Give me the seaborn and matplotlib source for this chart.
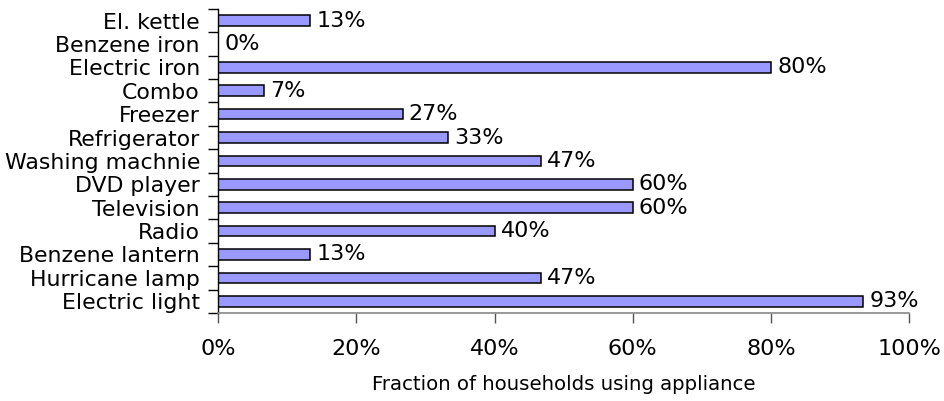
import numpy as np
import pandas as pd
import matplotlib
matplotlib.use("Agg")
import matplotlib.pyplot as plt
import seaborn as sns
from matplotlib.ticker import FixedLocator, FuncFormatter

appliances = ["El. kettle", "Benzene iron", "Electric iron", "Combo", "Freezer",
              "Refrigerator", "Washing machnie", "DVD player", "Television", "Radio",
              "Benzene lantern", "Hurricane lamp", "Electric light"]
shares = [13.3, 0.0, 80.0, 6.7, 26.7, 33.3, 46.7, 60.0, 60.0, 40.0, 13.3, 46.7, 93.3]
x_ticks = [0, 20, 40, 60, 80, 100]

sns.set_theme(style="white")
plt.rcParams["font.family"] = ["DejaVu Sans"]

df = pd.DataFrame({"appliance": appliances, "share": shares})

fig = plt.figure(figsize=(9.45, 4.01), dpi=100)
ax = fig.add_axes([0.2307, 0.2195, 0.7315, 0.7585])

sns.barplot(data=df, x="share", y="appliance", orient="h", color="#9999FF",
            width=0.45, edgecolor="black", linewidth=1.1, saturation=1, ax=ax)

fs = 16
for i, v in enumerate(shares):
    ax.text(v + 0.9, i, f"{v:.0f}%", va="center", ha="left", fontsize=fs, color="black")

ax.set_xlim(0, 100)
ax.set_ylim(len(appliances) - 0.5, -0.5)
ax.set_xticks(x_ticks)
ax.xaxis.set_major_formatter(FuncFormatter(lambda v, p: f"{v:.0f}%"))
ax.tick_params(axis="x", direction="out", length=7, width=1, color="#555555",
               pad=12, labelsize=fs, labelcolor="black", bottom=True)

# category labels centered on bars, tick marks at category boundaries
ax.tick_params(axis="y", which="major", length=0, pad=13, labelsize=15.8, labelcolor="black")
ax.yaxis.set_minor_locator(FixedLocator(np.arange(-0.5, len(appliances), 1.0)))
ax.tick_params(axis="y", which="minor", direction="out", length=7, width=1,
               color="black", left=True)

ax.set_xlabel("Fraction of households using appliance", fontsize=14.2,
              color="black", labelpad=11)
ax.set_ylabel("")

for s in ["top", "right"]:
    ax.spines[s].set_visible(False)
ax.spines["left"].set_color("black")
ax.spines["left"].set_linewidth(1)
ax.spines["bottom"].set_color("#888888")
ax.spines["bottom"].set_linewidth(1.2)

fig.savefig("out.png", dpi=100)
